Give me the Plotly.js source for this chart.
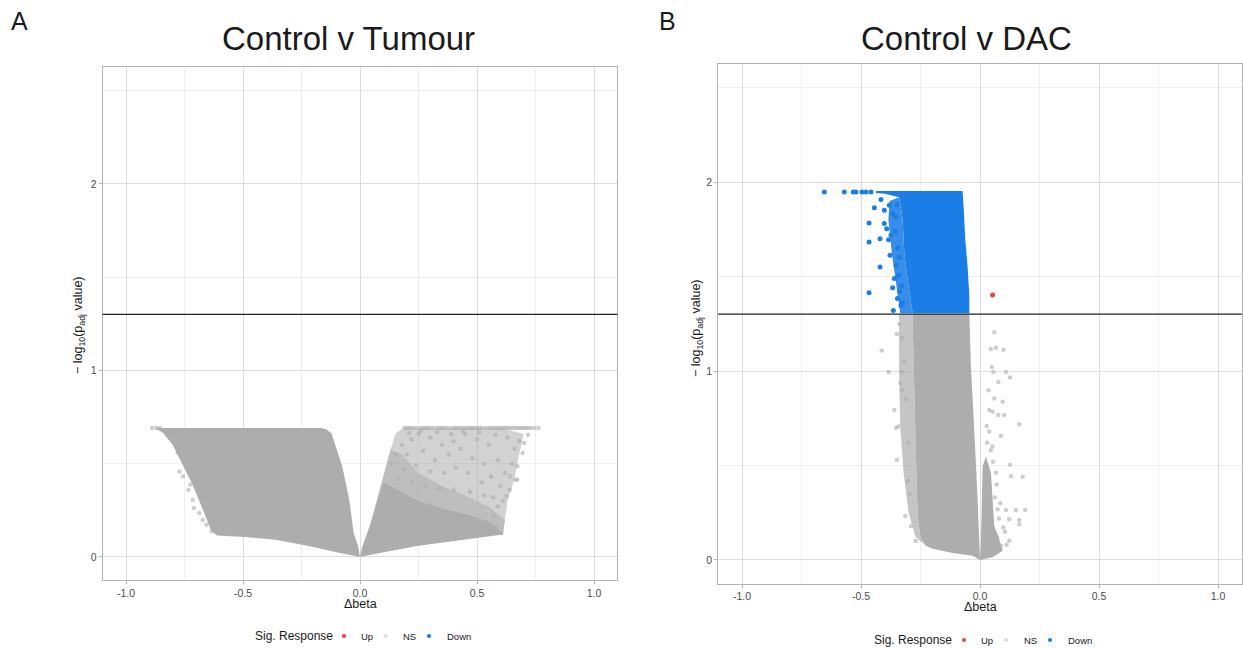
<!DOCTYPE html>
<html>
<head>
<meta charset="utf-8">
<script src="https://cdn.plot.ly/plotly-3.0.1.min.js"></script>
<style>html,body{margin:0;padding:0;background:#fff;}#chart{width:1243px;height:649px;}</style>
</head>
<body>
<div id="chart"></div>
<script>
// ---------------- DATA ----------------
var xTickVals = [-1, -0.5, 0, 0.5, 1];
var xTickText = ["-1.0", "-0.5", "0.0", "0.5", "1.0"];
var yTickVals = [0, 1, 2];
var yTickText = ["0", "1", "2"];
var pThreshold = 1.30103; // -log10(0.05)
var legendLabels = ["Up", "NS", "Down"];

// Control v Tumour : dense NS cloud, negative side (outline)
var tumNegCoreX = [0, -0.008, -0.027, -0.046, -0.076, -0.100, -0.122, -0.145, -0.165, -0.60, -0.875, -0.84, -0.80, -0.76, -0.72, -0.68, -0.655, -0.635, -0.61, -0.49, -0.36, -0.214, -0.10, 0];
var tumNegCoreY = [0, 0.057, 0.129, 0.307, 0.486, 0.58, 0.664, 0.685, 0.691, 0.691, 0.691, 0.664, 0.60, 0.50, 0.40, 0.28, 0.20, 0.14, 0.115, 0.107, 0.092, 0.057, 0.025, 0];
// Control v Tumour : dense NS cloud, positive side (outline)
var tumPosCoreX = [0, 0.008, 0.046, 0.076, 0.10, 0.16, 0.25, 0.35, 0.45, 0.55, 0.59, 0.611, 0.45, 0.25, 0.10, 0];
var tumPosCoreY = [0, 0.048, 0.182, 0.307, 0.40, 0.36, 0.30, 0.26, 0.23, 0.19, 0.15, 0.12, 0.095, 0.06, 0.025, 0];
// Control v Tumour : medium-density NS area, positive side (outline)
var tumPosMidX = [0.046, 0.10, 0.13, 0.18, 0.25, 0.35, 0.45, 0.55, 0.62, 0.611, 0.30, 0.046];
var tumPosMidY = [0.182, 0.43, 0.575, 0.55, 0.45, 0.38, 0.33, 0.27, 0.20, 0.12, 0.15, 0.182];
// Control v Tumour : sparse NS area, positive side (outline)
var tumPosSparseX = [0.046, 0.10, 0.13, 0.153, 0.183, 0.60, 0.70, 0.68, 0.66, 0.63, 0.611, 0.30, 0.046];
var tumPosSparseY = [0.182, 0.43, 0.575, 0.664, 0.69, 0.69, 0.66, 0.55, 0.42, 0.30, 0.12, 0.15, 0.182];
// Control v Tumour : individual NS points
var tumNsX = [-0.889, -0.870, -0.855, 0.19, 0.20, 0.21, 0.22, 0.23, 0.245, 0.26, 0.27, 0.28, 0.29, 0.30, 0.315, 0.33, 0.34, 0.35, 0.36, 0.37, 0.385, 0.40, 0.41, 0.42, 0.43, 0.44, 0.45, 0.46, 0.47, 0.48, 0.49, 0.50, 0.51, 0.52, 0.535, 0.55, 0.56, 0.57, 0.58, 0.59, 0.60, 0.61, 0.62, 0.63, 0.64, 0.65, 0.66, 0.67, 0.68, 0.69, 0.70, 0.71, 0.72, 0.73, 0.745, 0.763,
  -0.824, -0.794, -0.771, -0.756, -0.733, -0.725, -0.710, -0.715, -0.687, -0.672, -0.656, -0.634, -0.756, -0.779, -0.740,
  0.702, 0.695, 0.672, 0.664, 0.641, 0.626, 0.588, 0.580, 0.603, 0.550, 0.672, 0.718, 0.68, 0.66, 0.65, 0.62, 0.60, 0.61, 0.57, 0.64, 0.59, 0.55, 0.50, 0.45, 0.40, 0.35, 0.30, 0.25, 0.22, 0.18, 0.15, 0.13, 0.20, 0.27, 0.32, 0.38, 0.43, 0.48, 0.53, 0.56, 0.52, 0.46, 0.41, 0.36, 0.30, 0.24, 0.19, 0.16, 0.22, 0.28, 0.34, 0.40, 0.47, 0.53, 0.57, 0.21, 0.26, 0.33, 0.39, 0.44, 0.51, 0.58, 0.63];
var tumNsY = [0.691, 0.691, 0.691, 0.691, 0.691, 0.691, 0.691, 0.691, 0.691, 0.691, 0.691, 0.691, 0.691, 0.691, 0.691, 0.691, 0.691, 0.691, 0.691, 0.691, 0.691, 0.691, 0.691, 0.691, 0.691, 0.691, 0.691, 0.691, 0.691, 0.691, 0.691, 0.691, 0.691, 0.691, 0.691, 0.691, 0.691, 0.691, 0.691, 0.691, 0.691, 0.691, 0.691, 0.691, 0.691, 0.691, 0.691, 0.691, 0.691, 0.691, 0.691, 0.691, 0.691, 0.691, 0.691, 0.691,
  0.655, 0.611, 0.459, 0.432, 0.361, 0.388, 0.262, 0.307, 0.236, 0.200, 0.173, 0.138, 0.521, 0.557, 0.495,
  0.611, 0.557, 0.486, 0.414, 0.432, 0.325, 0.271, 0.164, 0.129, 0.138, 0.414, 0.655, 0.62, 0.58, 0.50, 0.45, 0.38, 0.30, 0.22, 0.36, 0.52, 0.60, 0.63, 0.66, 0.62, 0.60, 0.64, 0.66, 0.63, 0.60, 0.55, 0.50, 0.55, 0.57, 0.52, 0.55, 0.58, 0.53, 0.50, 0.43, 0.40, 0.45, 0.48, 0.45, 0.46, 0.49, 0.47, 0.42, 0.40, 0.38, 0.37, 0.36, 0.35, 0.33, 0.32, 0.665, 0.675, 0.67, 0.66, 0.672, 0.668, 0.655, 0.64];

// Control v DAC : dense NS cloud, negative side (outline)
var dacNsCoreX = [-0.283, -0.045, -0.038, -0.028, -0.020, -0.010, -0.003, 0, -0.031, -0.115, -0.20, -0.227, -0.25, -0.262, -0.268, -0.272, -0.276, -0.283];
var dacNsCoreY = [1.301, 1.301, 1.02, 0.81, 0.583, 0.32, 0.12, 0, 0.023, 0.037, 0.06, 0.075, 0.12, 0.233, 0.496, 0.70, 0.846, 1.25];
// Control v DAC : speckled NS band left of the cloud (outline)
var dacNsBandX = [-0.34, -0.283, -0.283, -0.276, -0.268, -0.262, -0.25, -0.227, -0.27, -0.30, -0.32, -0.335, -0.34];
var dacNsBandY = [1.30, 1.30, 1.25, 0.846, 0.496, 0.233, 0.12, 0.075, 0.12, 0.25, 0.45, 0.70, 1.0];
// Control v DAC : NS cloud, positive side (outline)
var dacNsPosX = [0, 0.004, 0.008, 0.011, 0.025, 0.046, 0.053, 0.060, 0.081, 0.095, 0.053, 0];
var dacNsPosY = [0, 0.093, 0.32, 0.496, 0.548, 0.46, 0.32, 0.18, 0.11, 0.049, 0.014, 0];
// Control v DAC : individual NS points
var dacNsX = [-0.413, -0.384, -0.329, -0.335, -0.328, -0.360, -0.343, -0.353, -0.349, -0.304, -0.314, -0.339, -0.328, -0.349, -0.32, -0.31, -0.30, -0.295, -0.29, -0.27,
  0.060, 0.046, 0.067, 0.099, 0.050, 0.056, 0.109, 0.126, 0.077, 0.036, 0.060, 0.095, 0.039, 0.053, 0.077, 0.102, 0.165, 0.028, 0.039, 0.088, 0.126, 0.130, 0.179, 0.067, 0.074, 0.109, 0.151, 0.190, 0.123, 0.165, 0.165, 0.098, 0.123, 0.088,
  0.030, 0.045, 0.055, 0.070, 0.062, 0.080, 0.052, 0.085, 0.105, 0.112, 0.072, 0.066];
var dacNsY = [1.109, 0.995, 0.995, 0.937, 0.898, 0.793, 0.706, 0.700, 0.531, 0.417, 0.233, 1.247, 1.174, 1.196, 1.05, 0.85, 0.62, 0.35, 0.18, 0.10,
  1.205, 1.117, 1.123, 1.112, 1.021, 0.995, 0.995, 0.965, 0.942, 0.898, 0.855, 0.837, 0.793, 0.785, 0.767, 0.767, 0.718, 0.709, 0.680, 0.657, 0.504, 0.443, 0.440, 0.461, 0.268, 0.264, 0.264, 0.264, 0.215, 0.212, 0.189, 0.172, 0.102, 0.075,
  0.62, 0.58, 0.52, 0.40, 0.33, 0.22, 0.60, 0.30, 0.15, 0.08, 0.12, 0.055];

// Control v DAC : dense Down cloud (outline)
var dacDownCoreX = [-0.437, -0.073, -0.068, -0.062, -0.052, -0.045, -0.045, -0.283, -0.304, -0.318, -0.325, -0.339, -0.40, -0.437];
var dacDownCoreY = [1.952, 1.952, 1.85, 1.70, 1.55, 1.40, 1.305, 1.305, 1.48, 1.62, 1.80, 1.92, 1.938, 1.942];
// Control v DAC : speckled Down band (outline)
var dacDownBandX = [-0.38, -0.339, -0.325, -0.318, -0.304, -0.283, -0.335, -0.35, -0.37, -0.385];
var dacDownBandY = [1.90, 1.92, 1.80, 1.62, 1.48, 1.305, 1.305, 1.45, 1.62, 1.80];
// Control v DAC : individual Down points
var dacDownX = [-0.654, -0.570, -0.532, -0.521, -0.496, -0.479, -0.458,
  -0.466, -0.466, -0.420, -0.420, -0.466, -0.444, -0.416, -0.402, -0.402, -0.381, -0.392, -0.378, -0.367, -0.364, -0.347, -0.367, -0.353, -0.374, -0.384, -0.360, -0.342, -0.332,
  -0.345, -0.352, -0.338, -0.330, -0.356, -0.348, -0.340, -0.326];
var dacDownY = [1.947, 1.947, 1.947, 1.947, 1.947, 1.947, 1.947,
  1.783, 1.683, 1.700, 1.550, 1.414, 1.864, 1.907, 1.850, 1.780, 1.877, 1.753, 1.612, 1.440, 1.320, 1.383, 1.832, 1.815, 1.718, 1.695, 1.489, 1.506, 1.347,
  1.650, 1.560, 1.420, 1.450, 1.740, 1.880, 1.600, 1.360];
// Control v DAC : Up points
var dacUpX = [0.053];
var dacUpY = [1.402];

// ---------------- STYLE ----------------
var W = 1243, H = 649;
var GREY = 'rgb(173,173,173)';
var BLUE = '#1a7ee6';
var RED = '#e8453c';
var FONT = 'Liberation Sans, Arial, Helvetica, sans-serif';
var legendColors = [RED, '#dedede', BLUE];

function fillTrace(xs, ys, color, xa, ya) {
  return {type: 'scatter', mode: 'lines', x: xs, y: ys, fill: 'toself', fillcolor: color,
    line: {width: 0, color: color}, hoverinfo: 'skip', showlegend: false, xaxis: xa, yaxis: ya};
}
function ptTrace(xs, ys, color, size, xa, ya, name) {
  return {type: 'scatter', mode: 'markers', x: xs, y: ys, name: name,
    marker: {color: color, size: size, line: {width: 0}}, xaxis: xa, yaxis: ya, showlegend: false};
}

var traces = [
  // Tumour panel
  fillTrace(tumNegCoreX, tumNegCoreY, GREY, 'x', 'y'),
  fillTrace(tumPosSparseX, tumPosSparseY, 'rgba(173,173,173,0.55)', 'x', 'y'),
  fillTrace(tumPosMidX, tumPosMidY, 'rgba(173,173,173,0.55)', 'x', 'y'),
  fillTrace(tumPosCoreX, tumPosCoreY, GREY, 'x', 'y'),
  ptTrace(tumNsX, tumNsY, 'rgba(173,173,173,0.6)', 4.5, 'x', 'y', 'NS'),
  // DAC panel
  fillTrace(dacNsBandX, dacNsBandY, 'rgba(173,173,173,0.7)', 'x2', 'y2'),
  fillTrace(dacNsCoreX, dacNsCoreY, GREY, 'x2', 'y2'),
  fillTrace(dacNsPosX, dacNsPosY, GREY, 'x2', 'y2'),
  ptTrace(dacNsX, dacNsY, 'rgba(173,173,173,0.6)', 4.5, 'x2', 'y2', 'NS'),
  fillTrace(dacDownBandX, dacDownBandY, 'rgba(26,126,230,0.88)', 'x2', 'y2'),
  fillTrace(dacDownCoreX, dacDownCoreY, BLUE, 'x2', 'y2'),
  ptTrace(dacDownX, dacDownY, BLUE, 5, 'x2', 'y2', 'Down'),
  ptTrace(dacUpX, dacUpY, RED, 5, 'x2', 'y2', 'Up')
];

function xAxis(domain, anchor) {
  return {domain: domain, anchor: anchor, range: [-1.1, 1.1], tickmode: 'array', tickvals: xTickVals, ticktext: xTickText,
    showgrid: true, gridcolor: '#DEDEDE', gridwidth: 1, zeroline: false,
    minor: {tickmode: 'array', tickvals: [-0.75, -0.25, 0.25, 0.75], showgrid: true, gridcolor: '#EFEFEF', gridwidth: 1, ticks: ''},
    showline: true, linecolor: '#B3B3B3', linewidth: 1, mirror: true,
    ticks: 'outside', ticklen: 3, tickcolor: '#B3B3B3', tickwidth: 1, automargin: false,
    tickfont: {family: FONT, size: 10.5, color: '#4D4D4D'}, fixedrange: true};
}
function yAxis(domain, anchor) {
  return {domain: domain, anchor: anchor, range: [-0.125, 2.625], tickmode: 'array', tickvals: yTickVals, ticktext: yTickText,
    showgrid: true, gridcolor: '#DEDEDE', gridwidth: 1, zeroline: false,
    minor: {tickmode: 'array', tickvals: [0.5, 1.5, 2.5], showgrid: true, gridcolor: '#EFEFEF', gridwidth: 1, ticks: ''},
    showline: true, linecolor: '#B3B3B3', linewidth: 1, mirror: true,
    ticks: 'outside', ticklen: 3, tickcolor: '#B3B3B3', tickwidth: 1, automargin: false,
    tickfont: {family: FONT, size: 10.5, color: '#4D4D4D'}, fixedrange: true};
}
function ann(text, px, py, size, extra) {
  var a = {text: text, x: px / W, y: 1 - py / H, xref: 'paper', yref: 'paper', showarrow: false,
    xanchor: 'center', yanchor: 'middle', font: {family: FONT, size: size, color: '#1a1a1a'}};
  for (var k in extra) a[k] = extra[k];
  return a;
}

var annotations = [
  ann('A', 19.5, 21, 25, {}),
  ann('B', 668, 21, 25, {}),
  ann('Control v Tumour', 348, 38, 33, {}),
  ann('Control v DAC', 966, 38, 33, {}),
  ann('\u2212 log<sub>10</sub>(p<sub>adj</sub> value)', 79, 325, 12.5, {textangle: -90}),
  ann('\u2212 log<sub>10</sub>(p<sub>adj</sub> value)', 697, 328, 12.5, {textangle: -90}),
  ann('\u0394beta', 360, 604, 12.5, {}),
  ann('\u0394beta', 980, 607, 12.5, {})
];
var shapes = [
  {type: 'line', xref: 'x domain', yref: 'y', x0: 0, x1: 1, y0: pThreshold, y1: pThreshold, line: {color: '#222222', width: 1.3}},
  {type: 'line', xref: 'x2 domain', yref: 'y2', x0: 0, x1: 1, y0: pThreshold, y1: pThreshold, line: {color: '#222222', width: 1.3}}
];

// Legends ("Sig. Response": Up / NS / Down) for each panel
var legendPanels = [
  {titleX: 252.5, y: 636, dots: [344, 385.7, 429], texts: [359, 401, 445]},
  {titleX: 871.5, y: 640, dots: [964, 1006, 1050], texts: [979.3, 1021.7, 1066]}
];
legendPanels.forEach(function (lp) {
  annotations.push(ann('Sig. Response', lp.titleX, lp.y, 12, {xanchor: 'left'}));
  legendLabels.forEach(function (lab, i) {
    annotations.push(ann(lab, lp.texts[i], lp.y, 9.5, {xanchor: 'left'}));
    var cx = lp.dots[i], r = 2.1;
    shapes.push({type: 'circle', xref: 'paper', yref: 'paper',
      x0: (cx - r) / W, x1: (cx + r) / W, y0: 1 - (lp.y + r) / H, y1: 1 - (lp.y - r) / H,
      fillcolor: legendColors[i], line: {width: 0}});
  });
});

var layout = {
  width: W, height: H,
  margin: {l: 0, r: 0, t: 0, b: 0, autoexpand: false},
  paper_bgcolor: '#ffffff', plot_bgcolor: '#ffffff',
  showlegend: false,
  xaxis: xAxis([102.6 / W, 617.4 / W], 'y'),
  yaxis: yAxis([1 - 580.3 / H, 1 - 67.4 / H], 'x'),
  xaxis2: xAxis([718.2 / W, 1241.8 / W], 'y2'),
  yaxis2: yAxis([1 - 583.6 / H, 1 - 63.9 / H], 'x2'),
  shapes: shapes,
  annotations: annotations
};

Plotly.newPlot('chart', traces, layout, {displayModeBar: false, staticPlot: true});
</script>
</body>
</html>
